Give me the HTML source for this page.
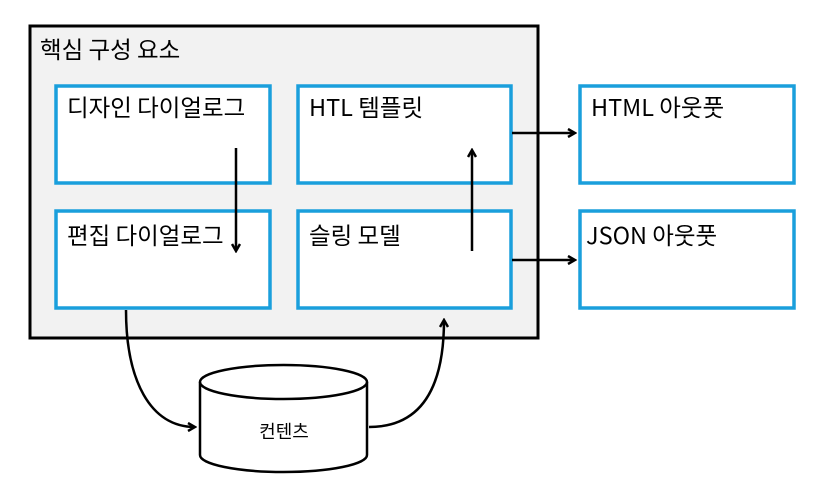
<!DOCTYPE html>
<html><head><meta charset="utf-8"><style>
body{margin:0;background:#fff;}
svg text{font-family:"Noto Sans CJK KR",sans-serif;fill:#000;}
</style></head><body>
<svg width="827" height="494" viewBox="0 0 827 494" xmlns="http://www.w3.org/2000/svg">
<defs><marker id="a" markerWidth="10" markerHeight="10" refX="8" refY="5" orient="auto" markerUnits="userSpaceOnUse"><path d="M1,1 L8,5 L1,9" fill="none" stroke="#000" stroke-width="2.5"/></marker></defs>
<rect x="30" y="26" width="508" height="312" fill="#f2f2f2" stroke="#000" stroke-width="3"/>
<text x="40" y="58" font-size="23.5">핵심 구성 요소</text>
<g fill="#fff" stroke="#1a9fdc" stroke-width="3.5">
<rect x="56" y="86" width="214" height="97"/>
<rect x="298" y="86" width="213" height="97"/>
<rect x="56" y="211" width="214" height="97"/>
<rect x="298" y="211" width="213" height="97"/>
<rect x="580" y="86" width="214" height="97"/>
<rect x="580" y="211" width="214" height="97"/>
</g>
<g font-size="23.5">
<text x="67" y="116">디자인 다이얼로그</text>
<text x="309" y="116">HTL 템플릿</text>
<text x="67" y="244">편집 다이얼로그</text>
<text x="309" y="244">슬링 모델</text>
<text x="591" y="116">HTML 아웃풋</text>
<text x="586" y="244">JSON 아웃풋</text>
</g>
<g stroke="#000" stroke-width="2.5" fill="none" marker-end="url(#a)">
<line x1="236" y1="148" x2="236" y2="251"/>
<line x1="472" y1="251" x2="472" y2="150"/>
<line x1="512" y1="133" x2="575" y2="133"/>
<line x1="512" y1="260" x2="575" y2="260"/>
<path d="M126,310 C126,380 150,427 195,427"/>
<path d="M369,427 C420,427 444,390 444,320"/>
</g>
<g stroke="#000" stroke-width="2.5" fill="#fff">
<path d="M200,382 L200,455 A83.5,17 0 0 0 367,455 L367,382"/>
<ellipse cx="283.5" cy="382" rx="83.5" ry="17"/>
</g>
<text x="284" y="438" font-size="18" text-anchor="middle">컨텐츠</text>
</svg>
</body></html>
